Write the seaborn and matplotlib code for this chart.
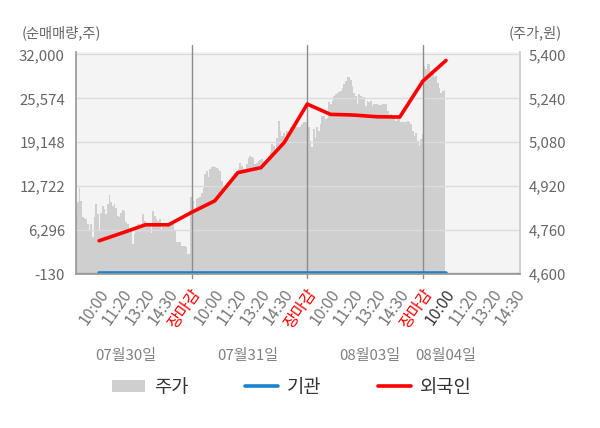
import numpy as np
import matplotlib
matplotlib.use('Agg')
import matplotlib.pyplot as plt
import matplotlib.transforms as mtransforms
from matplotlib.patches import Patch
from matplotlib.lines import Line2D
import seaborn as sns

# stock price samples (원), one list per trading day
price_0730 = [4824, 4861, 4915, 4867, 4806, 4805, 4800, 4783, 4758, 4783,
              4733, 4806, 4856, 4820, 4758, 4824, 4849, 4838, 4820, 4856,
              4889, 4861, 4849, 4856, 4842, 4812, 4806, 4824, 4833, 4830,
              4788, 4782, 4758, 4758, 4710, 4746, 4776, 4782, 4764, 4776,
              4818, 4794, 4776, 4770, 4776, 4751, 4830, 4812, 4800, 4794,
              4800, 4764, 4770, 4770, 4770, 4776, 4776, 4787, 4794, 4758,
              4715, 4715, 4715, 4703, 4703, 4703, 4697, 4673]
price_0731 = [4879, 4867, 4837, 4873, 4878, 4879, 4896, 4915, 4964, 4976,
              4952, 4982, 4991, 4994, 4991, 4986, 4983, 4976, 4940, 4915,
              4921, 4928, 4932, 4940, 4947, 4952, 4969, 4976, 4982, 5006,
              4994, 4982, 4976, 5001, 5024, 5031, 5027, 5024, 5000, 5003,
              5012, 5016, 5019, 5012, 5016, 5019, 5031, 5043, 5073, 5067,
              5055, 5097, 5158, 5122, 5103, 5115, 5097, 5122, 5097, 5134,
              5136, 5140, 5136, 5134, 5136, 5140, 5148, 5152, 5152, 5152]
price_0803 = [5152, 5134, 5085, 5061, 5128, 5097, 5134, 5122, 5146, 5176,
              5176, 5164, 5170, 5225, 5219, 5231, 5249, 5255, 5261, 5264,
              5267, 5279, 5292, 5304, 5316, 5318, 5306, 5285, 5261, 5249,
              5219, 5255, 5249, 5243, 5243, 5213, 5231, 5225, 5231, 5213,
              5219, 5219, 5219, 5216, 5216, 5218, 5219, 5219, 5194, 5170,
              5182, 5176, 5170, 5158, 5164, 5170, 5152, 5152, 5152, 5154,
              5158, 5152, 5146, 5122, 5103, 5115, 5085, 5067, 5091, 5110]
price_0804 = [5340, 5358, 5346, 5364, 5364, 5340, 5328, 5316, 5322, 5297,
              5279, 5261, 5267, 5271]

# cumulative net buying (주) at each time mark
foreign = [4732, 5885, 7068, 7068, 8893, 10572, 14704, 15434, 19084,
           24734, 23230, 23128, 22880, 22836, 28092, 31114]
institution = [0] * 16

time_labels = ['10:00', '11:20', '13:20', '14:30', '장마감',
               '10:00', '11:20', '13:20', '14:30', '장마감',
               '10:00', '11:20', '13:20', '14:30', '장마감',
               '10:00', '11:20', '13:20', '14:30']
day_labels = ['07월30일', '07월31일', '08월03일', '08월04일']

vol_ticks = [-130, 6296, 12722, 19148, 25574, 32000]
price_ticks = [4600, 4760, 4920, 5080, 5240, 5400]

sns.set_theme(style='white')
plt.rcParams['font.family'] = ['Noto Sans CJK KR', 'DejaVu Sans']

# each trading day takes 5 slots on the x axis
day_prices = [price_0730, price_0731, price_0803, price_0804]
step = 5 / 69
px, py = [], []
for d, prices in enumerate(day_prices):
    px.extend(5 * d + np.arange(len(prices)) * step)
    py.extend(prices)
slot_x = np.arange(1, len(foreign) + 1)

fig = plt.figure(figsize=(6, 4.28), dpi=100)
ax = fig.add_axes([76 / 600, 1 - 274 / 428, 444 / 600, 222.3 / 428])
ax.set_facecolor('#f4f4f4')
ax.fill_between(px, 4600, py, color='#cfcfcf', linewidth=0, step='mid')
ax.set_xlim(0, 19.2)
ax.set_ylim(4600, 5409.8)
for s in ax.spines.values():
    s.set_visible(False)

tw = ax.twinx()
# price scale on the right, net buying scale on the left
ax.yaxis.tick_right()
tw.yaxis.tick_left()
ax.set_yticks(price_ticks)
ax.set_yticklabels([f'{v:,}' for v in price_ticks])
tw.set_ylim(-130, 32395)
tw.set_yticks(vol_ticks)
tw.set_yticklabels([f'{v:,}' for v in vol_ticks])
tw.grid(axis='y', color='#dcdcdc', linewidth=1)
tw.axhline(0, color='#999999', linewidth=1)
for d in (5, 10, 15):
    tw.axvline(d, ymin=-0.018, ymax=1.03, color='#8c8c8c', linewidth=1, clip_on=False)

sns.lineplot(x=slot_x, y=institution, ax=tw, color='#1b82cd', linewidth=2.6, legend=False)
sns.lineplot(x=slot_x, y=foreign, ax=tw, color='#ff0000', linewidth=2.6, legend=False)
tw.set_xlim(0, 19.2)
tw.set_xlabel('')
tw.set_ylabel('')

tw.spines['top'].set_visible(False)
tw.spines['left'].set_color('#999999')
tw.spines['bottom'].set_color('#999999')
tw.spines['right'].set_color('#cccccc')

ax.tick_params(axis='y', length=0, pad=6, labelsize=10.8, labelcolor='#666666')
tw.tick_params(axis='y', length=0, pad=8, labelsize=10.8, labelcolor='#666666')

ax.set_xticks(np.arange(1, len(time_labels) + 1))
ax.set_xticklabels(time_labels, rotation=55, ha='right', va='center',
                   rotation_mode='anchor', fontsize=11.5)
ax.tick_params(axis='x', length=0, pad=12)
shift = mtransforms.ScaledTranslation(0.06, 0, fig.dpi_scale_trans)
for i, lab in enumerate(ax.get_xticklabels()):
    lab.set_transform(lab.get_transform() + shift)
    if time_labels[i] == '장마감':
        lab.set_color('#ff0000')
    else:
        lab.set_color('#333333' if i == 15 else '#777777')

# date captions under the time labels
for xd, txt in zip([2.16, 7.44, 12.7, 16.0], day_labels):
    ax.text(xd, -0.37, txt, transform=ax.get_xaxis_transform(), ha='center',
            va='center', fontsize=10.8, color='#808080')

fig.text(22 / 600, 1 - 33 / 428, '(순매매량,주)', ha='left', va='center',
         fontsize=10.3, color='#666666')
fig.text(562 / 600, 1 - 33 / 428, '(주가,원)', ha='right', va='center',
         fontsize=10.3, color='#666666')

handles = [Patch(facecolor='#cfcfcf', edgecolor='none'),
           Line2D([], [], color='#1b82cd', linewidth=2.6),
           Line2D([], [], color='#ff0000', linewidth=2.6)]
fig.legend(handles, ['주가', '기관', '외국인'], loc='center',
           bbox_to_anchor=(292 / 600, 1 - 387 / 428), ncol=3, frameon=False,
           fontsize=13.5, handlelength=1.75, handleheight=0.65,
           handletextpad=0.5, columnspacing=3.0, labelcolor='#333333')

fig.savefig('out.png', dpi=100, facecolor='white')
